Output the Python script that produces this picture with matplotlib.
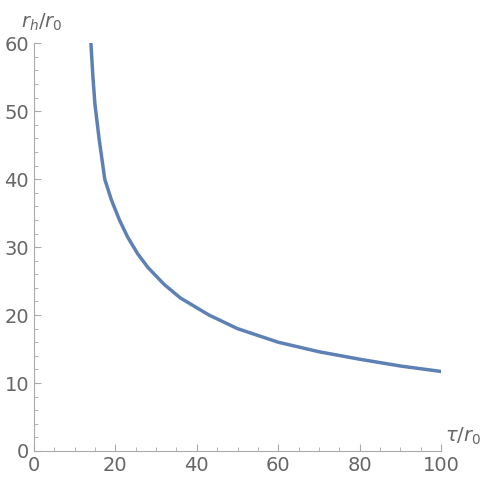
import matplotlib.pyplot as plt
from matplotlib.ticker import MultipleLocator

# curve
tau = [14, 14.5, 15, 16, 17.4, 19, 21, 23, 25.5, 28, 32, 36, 43, 50, 60, 70, 80, 90, 100]
r_h = [60, 55, 51, 46, 40, 37, 34, 31.5, 29, 27, 24.5, 22.5, 20, 18, 16, 14.6, 13.5, 12.5, 11.7]

gray = '#666666'
fig = plt.figure(figsize=(4.98, 4.91), dpi=100)
ax = fig.add_axes([0.068, 0.0815, 0.818, 0.8305])
ax.plot(tau, r_h, color='#5E81B5', lw=2.5)

ax.set_xlim(0, 100)
ax.set_ylim(0, 60)
ax.xaxis.set_major_locator(MultipleLocator(20))
ax.xaxis.set_minor_locator(MultipleLocator(5))
ax.yaxis.set_major_locator(MultipleLocator(10))
ax.yaxis.set_minor_locator(MultipleLocator(2))
for s in ['top', 'right']:
    ax.spines[s].set_visible(False)
for s in ['left', 'bottom']:
    ax.spines[s].set_color('#aaaaaa')
ax.tick_params(colors='#aaaaaa', labelcolor=gray, labelsize=14, length=5, direction='in')
ax.tick_params(which='minor', colors='#aaaaaa', length=3, direction='in')

ax.text(0.02, 1.025, r'$r_h/r_0$', transform=ax.transAxes, ha='center', va='bottom', fontsize=14, color=gray)
ax.text(1.01, 0.01, r'$\tau/r_0$', transform=ax.transAxes, ha='left', va='bottom', fontsize=14, color=gray)

fig.savefig('out.png', dpi=100)
